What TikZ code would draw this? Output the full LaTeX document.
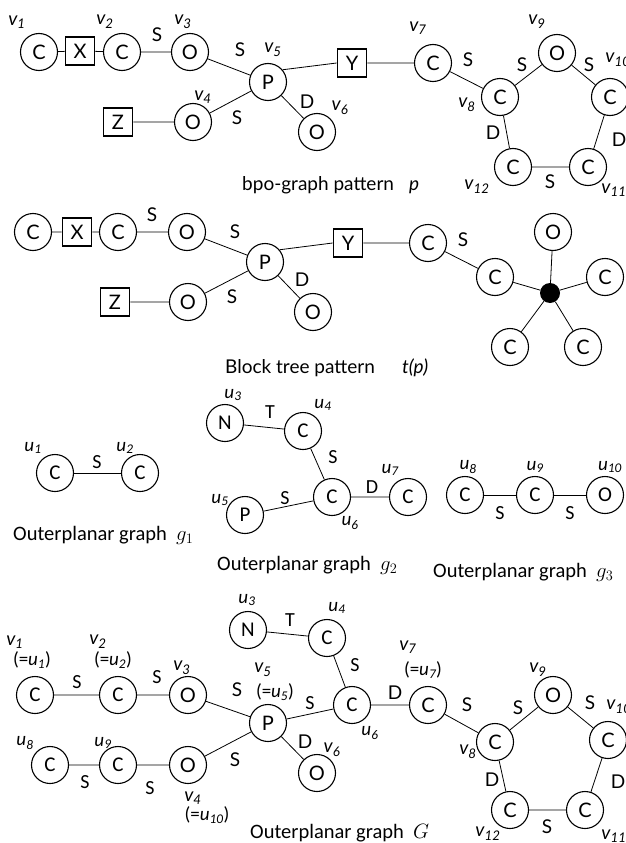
\documentclass[tikz,border=0pt]{standalone}
\usepackage{fontspec}
\newfontfamily\gillf{Lato}
\newfontfamily\calf{Carlito}
\newcommand{\vl}[2]{{\gillf\itshape #1\textsubscript{#2}}}
\newcommand{\ul}[2]{{\calf\itshape #1\textsubscript{#2}}}
\begin{document}
\begin{tikzpicture}[x=1pt,y=-1pt,
  cn/.style={circle,draw,line width=1.1pt,minimum size=37pt,inner sep=0pt,font=\gillf\fontsize{20}{20}\selectfont},
  cc/.style={cn,font=\calf\fontsize{21}{21}\selectfont},
  bx/.style={rectangle,draw,line width=1.8pt,minimum width=29pt,minimum height=28pt,inner sep=0pt,font=\gillf\fontsize{20}{20}\selectfont},
  el/.style={font=\gillf\fontsize{19}{19}\selectfont,inner sep=0pt},
  ce/.style={font=\calf\fontsize{20}{20}\selectfont,inner sep=0pt},
  vlab/.style={font=\fontsize{19}{19}\selectfont,inner sep=0pt},
  captxt/.style={anchor=base west,inner sep=0pt,font=\gillf\fontsize{19}{19}\selectfont},
  ccaptxt/.style={anchor=base west,inner sep=0pt,font=\calf\fontsize{20.5}{20.5}\selectfont},
  ed/.style={line width=0.8pt}]
\useasboundingbox (0,0) rectangle (625,843);
% ---------------- top: bpo-graph pattern
\node[cn] (a1) at (39,52) {C};
\node[bx] (ax) at (80,51) {X};
\node[cn] (a2) at (122,52) {C};
\node[cn] (a3) at (190,52) {O};
\node[cn] (a5) at (268,82) {P};
\node[bx] (az) at (118,122) {Z};
\node[cn] (a4) at (193,122) {O};
\node[cn] (a6) at (317,132) {O};
\node[bx] (ay) at (352,63) {Y};
\node[cn] (a7) at (433,63) {C};
\node[cn] (a8) at (500,97) {C};
\node[cn] (a9) at (557,53) {O};
\node[cn] (a10) at (610,97) {C};
\node[cn] (a11) at (588,167) {C};
\node[cn] (a12) at (513,167) {C};
\draw[ed] (a1)--(ax) (ax)--(a2) (a2)--(a3) (a3)--(a5) (az)--(a4) (a4)--(a5) (a5)--(a6)
  (a5.40)--(ay.west) (ay)--(a7) (a7)--(a8) (a8)--(a9) (a9)--(a10) (a10)--(a11) (a11)--(a12) (a12)--(a8);
\node[vlab] (la1) at (17,22) {\vl{v}{1}};
\node[vlab] (la2) at (105,22) {\vl{v}{2}};
\node[vlab] (la3) at (183,22) {\vl{v}{3}};
\node[vlab] (la4) at (203,97) {\vl{v}{4}};
\node[vlab] (la5) at (273,50) {\vl{v}{5}};
\node[vlab] (la6) at (340,108) {\vl{v}{6}};
\node[vlab] (la7) at (418,28) {\vl{v}{7}};
\node[vlab] (la8) at (467,105) {\vl{v}{8}};
\node[vlab] (la9) at (537,22) {\vl{v}{9}};
\node[vlab] (la10) at (618,60) {\vl{v}{10}};
\node[vlab] (la11) at (614,190) {\vl{v}{11}};
\node[vlab] (la12) at (477,187) {\vl{v}{12}};
\node[el] (ea1) at (157,35) {S};
\node[el] (ea2) at (240,50) {S};
\node[el] (ea3) at (237,118) {S};
\node[el] (ea4) at (307,102) {D};
\node[el] (ea5) at (468,60) {S};
\node[el] (ea6) at (522,65) {S};
\node[el] (ea7) at (589,65) {S};
\node[el] (ea8) at (619,140) {D};
\node[el] (ea9) at (550,182) {S};
\node[el] (ea10) at (493,133) {D};
\node[captxt] (capa) at (242,190) {bpo-graph pattern};
\node[captxt] (capap) at (409,190) {\itshape p};
% ---------------- block tree pattern
\node[cn] (b1) at (33,232) {C};
\node[bx] (bx) at (77,232) {X};
\node[cn] (b2) at (118,232) {C};
\node[cn] (b3) at (187,232) {O};
\node[cn] (b5) at (265,262) {P};
\node[bx] (bz) at (115,302) {Z};
\node[cn] (b4) at (188,302) {O};
\node[cn] (b6) at (313,312) {O};
\node[bx] (by) at (348,243) {Y};
\node[cn] (b7) at (428,243) {C};
\node[cn] (b8) at (495,277) {C};
\node[circle,fill=black,minimum size=20pt,inner sep=0pt] (bd) at (550,293) {};
\node[cn] (b9) at (553,232) {O};
\node[cn] (b10) at (605,277) {C};
\node[cn] (b11) at (583,347) {C};
\node[cn] (b12) at (510,347) {C};
\draw[ed] (b1)--(bx) (bx)--(b2) (b2)--(b3) (b3)--(b5) (bz)--(b4) (b4)--(b5) (b5)--(b6)
  (b5.40)--(by.west) (by)--(b7) (b7)--(b8) (b8)--(bd) (bd)--(b9) (bd)--(b10) (bd)--(b11) (bd)--(b12);
\node[el] (eb1) at (152,215) {S};
\node[el] (eb2) at (235,232) {S};
\node[el] (eb3) at (232,297) {S};
\node[el] (eb4) at (302,280) {D};
\node[el] (eb5) at (463,240) {S};
\node[captxt] (capb) at (225,373) {Block tree pattern};
\node[captxt] (capbt) at (402,373) {\itshape t(p)};
% ---------------- g1
\node[cc] (c1) at (55,473) {C};
\node[cc] (c2) at (140,473) {C};
\draw[ed] (c1)--(c2);
\node[vlab] (lc1) at (33,448) {\ul{u}{1}};
\node[vlab] (lc2) at (125,448) {\ul{u}{2}};
\node[ce] (ec1) at (97,462) {S};
\node[ccaptxt] (capc) at (13,540) {Outerplanar graph \ $g_1$};
% ---------------- g2
\node[cc] (d3) at (225,423) {N};
\node[cc] (d4) at (303,431) {C};
\node[cc] (d6) at (332,497) {C};
\node[cc] (d5) at (245,515) {P};
\node[cc] (d7) at (408,497) {C};
\draw[ed] (d3)--(d4) (d4)--(d6) (d5)--(d6) (d6)--(d7);
\node[vlab] (ld3) at (233,395) {\ul{u}{3}};
\node[vlab] (ld4) at (323,405) {\ul{u}{4}};
\node[vlab] (ld5) at (220,500) {\ul{u}{5}};
\node[vlab] (ld6) at (350,523) {\ul{u}{6}};
\node[vlab] (ld7) at (390,470) {\ul{u}{7}};
\node[ce] (ed1) at (270,412) {T};
\node[ce] (ed2) at (333,457) {S};
\node[ce] (ed3) at (285,498) {S};
\node[ce] (ed4) at (372,487) {D};
\node[ccaptxt] (capd) at (217,570) {Outerplanar graph \ $g_2$};
% ---------------- g3
\node[cc] (f8) at (465,495) {C};
\node[cc] (f9) at (535,495) {C};
\node[cc] (f10) at (605,495) {O};
\draw[ed] (f8)--(f9) (f9)--(f10);
\node[vlab] (lf8) at (468,467) {\ul{u}{8}};
\node[vlab] (lf9) at (535,467) {\ul{u}{9}};
\node[vlab] (lf10) at (610,467) {\ul{u}{10}};
\node[ce] (ef1) at (500,513) {S};
\node[ce] (ef2) at (570,513) {S};
\node[ccaptxt] (capf) at (433,577) {Outerplanar graph \ $g_3$};
% ---------------- G
\node[cc] (g1) at (35,695) {C};
\node[cc] (g2) at (118,695) {C};
\node[cn] (g3) at (188,695) {O};
\node[cn] (g5) at (268,723) {P};
\node[cc] (g8) at (50,765) {C};
\node[cc] (g9) at (118,765) {C};
\node[cn] (g4) at (188,765) {O};
\node[cn] (g6) at (317,773) {O};
\node[cc] (gn) at (248,630) {N};
\node[cc] (gu4) at (327,638) {C};
\node[cc] (gu6) at (352,705) {C};
\node[cn] (g7) at (428,705) {C};
\node[cn] (gv8) at (495,742) {C};
\node[cn] (gv9) at (553,695) {O};
\node[cn] (gv10) at (608,740) {C};
\node[cn] (gv11) at (585,810) {C};
\node[cn] (gv12) at (510,810) {C};
\draw[ed] (g1)--(g2) (g2)--(g3) (g3)--(g5) (g8)--(g9) (g9)--(g4) (g4)--(g5) (g5)--(g6)
  (gn)--(gu4) (gu4)--(gu6) (g5)--(gu6) (gu6)--(g7) (g7)--(gv8) (gv8)--(gv9) (gv9)--(gv10)
  (gv10)--(gv11) (gv11)--(gv12) (gv12)--(gv8);
\node[vlab] (lg1) at (15,642) {\vl{v}{1}};
\node[vlab] (lg1b) at (32,660) {\calf (=\ul{u}{1})};
\node[vlab] (lg2) at (98,642) {\vl{v}{2}};
\node[vlab] (lg2b) at (113,660) {\calf (=\ul{u}{2})};
\node[vlab] (lg3) at (182,668) {\vl{v}{3}};
\node[vlab] (lg5) at (263,670) {\vl{v}{5}};
\node[vlab] (lg5b) at (275,692) {\calf (=\ul{u}{5})};
\node[vlab] (lg8) at (25,743) {\ul{u}{8}};
\node[vlab] (lg9) at (103,743) {\ul{u}{9}};
\node[vlab] (lg4) at (193,798) {\vl{v}{4}};
\node[vlab] (lg4b) at (207,815) {\calf (=\ul{u}{10})};
\node[vlab] (lg6) at (332,750) {\vl{v}{6}};
\node[vlab] (lgu3) at (247,600) {\ul{u}{3}};
\node[vlab] (lgu4) at (337,608) {\ul{u}{4}};
\node[vlab] (lgu6) at (370,733) {\ul{u}{6}};
\node[vlab] (lg7) at (408,647) {\vl{v}{7}};
\node[vlab] (lg7b) at (423,670) {\calf (=\ul{u}{7})};
\node[vlab] (lgv8) at (468,752) {\vl{v}{8}};
\node[vlab] (lgv9) at (538,670) {\vl{v}{9}};
\node[vlab] (lgv10) at (619,707) {\vl{v}{10}};
\node[vlab] (lgv11) at (614,836) {\vl{v}{11}};
\node[vlab] (lgv12) at (488,834) {\vl{v}{12}};
\node[ce] (eg1) at (77,682) {S};
\node[ce] (eg2) at (157,677) {S};
\node[el] (eg3) at (237,690) {S};
\node[ce] (eg4) at (85,782) {S};
\node[ce] (eg5) at (150,788) {S};
\node[el] (eg6) at (235,760) {S};
\node[el] (eg7) at (305,742) {D};
\node[ce] (eg8) at (310,703) {S};
\node[ce] (eg9) at (290,620) {T};
\node[ce] (eg10) at (355,665) {S};
\node[el] (eg11) at (395,693) {D};
\node[el] (eg12) at (467,705) {S};
\node[el] (eg13) at (518,708) {S};
\node[el] (eg14) at (590,703) {S};
\node[el] (eg15) at (618,782) {D};
\node[el] (eg16) at (547,827) {S};
\node[el] (eg17) at (492,780) {D};
\node[ccaptxt] (capg) at (250,838) {Outerplanar graph \ $G$};
\end{tikzpicture}
\end{document}
